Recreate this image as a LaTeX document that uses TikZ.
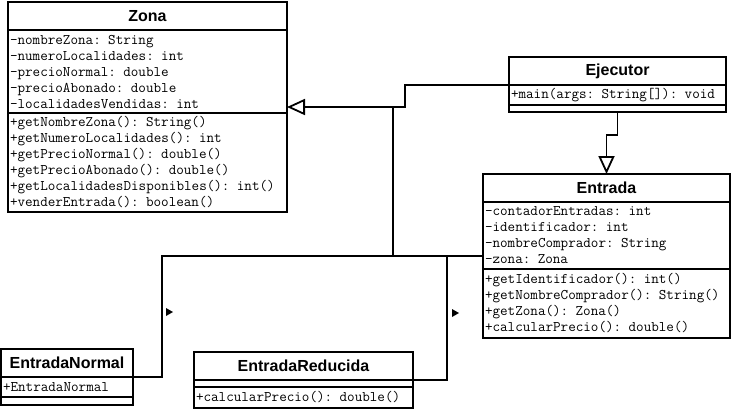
\documentclass[tikz,border=0pt]{standalone}
\usepackage{fontspec}
\newfontfamily\umlsans{Liberation Sans}
\usetikzlibrary{positioning,arrows.meta}

\tikzset{
    cabecera/.style = {draw, line width = 1.8pt, outer sep = 0pt, inner sep = 0pt,
        minimum height = 28pt, font = \umlsans\bfseries\fontsize{16}{18}\selectfont},
    compartimento/.style = {draw, line width = 1.8pt, outer sep = 0pt,
        inner xsep = 2pt, inner ysep = 0pt, align = left,
        font = \ttfamily\fontsize{14.7}{16}\selectfont},
    herencia/.style = {line width = 1.8pt,
        -{Triangle[open, length = 18pt, width = 16pt, fill = white]}},
    enlace/.style = {line width = 1.8pt},
    flechita/.style = {fill = black}
}

\begin{document}
\begin{tikzpicture}[x = 1pt, y = -1pt]
        \useasboundingbox (0, 0) rectangle (733, 413);

        % Zona
        \node [cabecera, minimum width = 279pt, anchor = north west] (zona) at (8, 2) {Zona};
        \node [compartimento, text width = 275pt, minimum height = 83pt, below = 0pt of zona] (zona-attr)
            {-nombreZona: String\\-numeroLocalidades: int\\-precioNormal: double\\-precioAbonado: double\\-localidadesVendidas: int};
        \node [compartimento, text width = 275pt, minimum height = 99pt, below = 0pt of zona-attr] (zona-ops)
            {+getNombreZona(): String()\\+getNumeroLocalidades(): int\\+getPrecioNormal(): double()\\+getPrecioAbonado(): double()\\+getLocalidadesDisponibles(): int()\\+venderEntrada(): boolean()};

        % Ejecutor
        \node [cabecera, minimum width = 217pt, anchor = north west] (ejecutor) at (509, 57) {Ejecutor};
        \node [compartimento, text width = 213pt, minimum height = 20pt, below = 0pt of ejecutor] (ejecutor-ops)
            {+main(args: String[]): void};
        \node [compartimento, text width = 213pt, minimum height = 7pt, below = 0pt of ejecutor-ops] (ejecutor-attr) {};

        % Entrada
        \node [cabecera, minimum width = 247pt, anchor = north west] (entrada) at (483, 174) {Entrada};
        \node [compartimento, text width = 243pt, minimum height = 67pt, below = 0pt of entrada] (entrada-attr)
            {-contadorEntradas: int\\-identificador: int\\-nombreComprador: String\\-zona: Zona};
        \node [compartimento, text width = 243pt, minimum height = 69pt, below = 0pt of entrada-attr] (entrada-ops)
            {+getIdentificador(): int()\\+getNombreComprador(): String()\\+getZona(): Zona()\\+calcularPrecio(): double()};

        % EntradaNormal
        \node [cabecera, minimum width = 132pt, anchor = north west] (normal) at (1, 349) {EntradaNormal};
        \node [compartimento, text width = 128pt, minimum height = 20pt, below = 0pt of normal] (normal-ops)
            {+EntradaNormal};
        \node [compartimento, text width = 128pt, minimum height = 8pt, below = 0pt of normal-ops] (normal-attr) {};

        % EntradaReducida
        \node [cabecera, minimum width = 219pt, anchor = north west] (reducida) at (194, 352) {EntradaReducida};
        \node [compartimento, text width = 215pt, minimum height = 7pt, below = 0pt of reducida] (reducida-attr) {};
        \node [compartimento, text width = 215pt, minimum height = 21pt, below = 0pt of reducida-attr] (reducida-ops)
            {+calcularPrecio(): double()};

        % Verbindungen
        \coordinate (codo) at (405, 107);
        \coordinate (nudo) at (393, 107);
        \coordinate (rielN) at (162, 256);
        \coordinate (rielR) at (447, 256);

        \draw [herencia] (ejecutor.south west) -| (codo) -- (zona-attr.east |- codo);
        \draw [enlace] (nudo) -- (nudo |- rielN);
        \draw [enlace] (entrada-attr.west |- rielR) -- (rielN) |- (normal.south east);
        \draw [enlace] (rielR) |- (reducida.south east);
        \draw [herencia] (ejecutor-attr.south) -- ++(0, 23) -| (entrada.north);

        % Richtungspfeile
        \fill [flechita] (166, 308) -- (173, 312) -- (166, 316) -- cycle;
        \fill [flechita] (452, 309) -- (459, 313) -- (452, 317) -- cycle;
    \end{tikzpicture}
\end{document}
